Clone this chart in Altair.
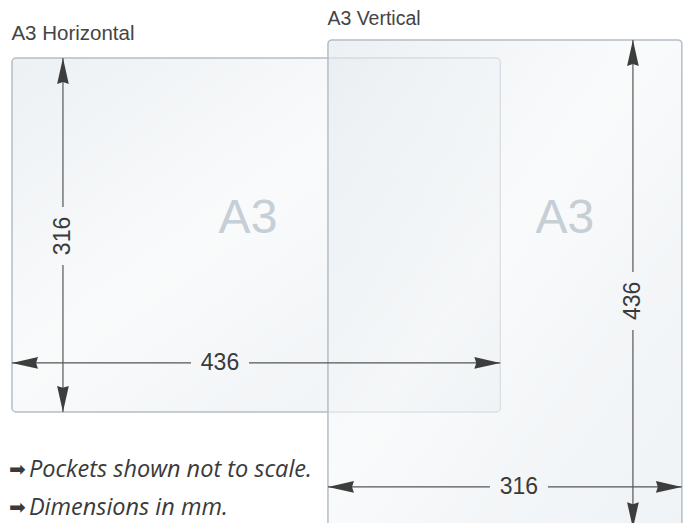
import altair as alt
import pandas as pd

# ---------------- data ----------------
pockets = ["A3 Horizontal", "A3 Vertical"]
widths_mm = [436, 316]
heights_mm = [316, 436]
big_labels = ["A3", "A3"]
notes = ["Pockets shown not to scale.", "Dimensions in mm."]

# ---------------- layout (drawing space in mm) ----------------
K = 1.12            # px per mm
W, H = 675, 515     # plot size in px
X0, Y0 = -3.57, -44.64
origins = [(0.0, 0.0), (282.1, -16.1)]
dim_layout = [
    dict(vx=45.5, hy=272.3, htx=185.7, vty=158.9),
    dict(vx=272.3, hy=399.1, htx=170.5, vty=233.0),
]
big_pos = [(210.7, 143.8), (211.6, 159.8)]
label_dy = [-16.1, -13.0]
label_size = [20.5, 19.5]
GAP = 29 / K
note_x_arrow, note_x_text = -2.7, 15.1
note_y = [374.1, 408.0]

# ---------------- build tables ----------------
rects, segs, heads, htxt, vtxt, labels, bigs = [], [], [], [], [], [], []
for i, name in enumerate(pockets):
    ox, oy = origins[i]
    w, h = widths_mm[i], heights_mm[i]
    d = dim_layout[i]
    rects.append(dict(name=name, x=ox, x2=ox + w, y=oy, y2=oy + h))
    hy = oy + d["hy"]
    vx = ox + d["vx"]
    tx = ox + d["htx"]
    ty = oy + d["vty"]
    segs += [
        dict(x=ox, x2=tx - GAP, y=hy, y2=hy),
        dict(x=tx + GAP, x2=ox + w, y=hy, y2=hy),
        dict(x=vx, x2=vx, y=oy, y2=ty - GAP),
        dict(x=vx, x2=vx, y=ty + GAP, y2=oy + h),
    ]
    heads += [
        dict(x=ox, y=hy, dir="left"),
        dict(x=ox + w, y=hy, dir="right"),
        dict(x=vx, y=oy, dir="up"),
        dict(x=vx, y=oy + h, dir="down"),
    ]
    htxt.append(dict(x=tx, y=hy, t=str(w)))
    vtxt.append(dict(x=vx, y=ty, t=str(h)))
    labels.append(dict(x=ox - 0.5, y=oy + label_dy[i], t=name, s=label_size[i]))
    bigs.append(dict(x=ox + big_pos[i][0], y=oy + big_pos[i][1], t=big_labels[i]))

notes_df = pd.DataFrame(dict(x=[note_x_text] * 2, y=note_y, t=notes))
notes_arrow_df = pd.DataFrame(dict(x=[note_x_arrow] * 2, y=note_y, t=["➡", "➡"]))

X = alt.X("x:Q", scale=alt.Scale(domain=[X0, X0 + W / K], nice=False, zero=False), axis=None)
Y = alt.Y("y:Q", scale=alt.Scale(domain=[Y0, Y0 + H / K], nice=False, zero=False, reverse=True), axis=None)

grad = alt.LinearGradient(
    gradient="linear",
    stops=[
        alt.GradientStop(color="#e3e9ee", offset=0),
        alt.GradientStop(color="#f6f8f9", offset=0.45),
        alt.GradientStop(color="#edf1f4", offset=0.7),
        alt.GradientStop(color="#e8edf1", offset=1),
    ],
    x1=0, y1=0, x2=1, y2=1,
)

pocket_layer = alt.Chart(pd.DataFrame(rects)).mark_rect(
    cornerRadius=4, fill=grad, fillOpacity=0.65, stroke="#b4bec7", strokeWidth=1.5
).encode(x=X, x2="x2:Q", y=Y, y2="y2:Q")

big_layer = alt.Chart(pd.DataFrame(bigs)).mark_text(
    font="Liberation Sans", fontSize=48, color="#c6ced6", baseline="middle", align="center"
).encode(x=X, y=Y, text="t:N")

line_layer = alt.Chart(pd.DataFrame(segs)).mark_rule(color="#555555", strokeWidth=1.2).encode(
    x=X, x2="x2:Q", y=Y, y2="y2:Q"
)

paths = {
    "left": "M0,0 L2,-0.45 L1.85,0 L2,0.45 Z",
    "right": "M0,0 L-2,-0.45 L-1.85,0 L-2,0.45 Z",
    "up": "M0,0 L-0.45,2 L0,1.85 L0.45,2 Z",
    "down": "M0,0 L-0.45,-2 L0,-1.85 L0.45,-2 Z",
}
head_layer = alt.Chart(pd.DataFrame(heads)).mark_point(
    filled=True, opacity=1, color="#3d3d3d", size=676, strokeWidth=0
).encode(
    x=X, y=Y,
    shape=alt.Shape("dir:N", scale=alt.Scale(domain=list(paths.keys()), range=list(paths.values())), legend=None),
)

htext_layer = alt.Chart(pd.DataFrame(htxt)).mark_text(
    font="Liberation Sans", fontSize=23, color="#3a3a3a", baseline="middle", align="center"
).encode(x=X, y=Y, text="t:N")

vtext_layer = alt.Chart(pd.DataFrame(vtxt)).mark_text(
    font="Liberation Sans", fontSize=23, color="#3a3a3a", baseline="middle", align="center", angle=270
).encode(x=X, y=Y, text="t:N")

label_layer = alt.Chart(pd.DataFrame(labels)).mark_text(
    font="Liberation Sans", color="#444444", baseline="alphabetic", align="left"
).encode(x=X, y=Y, text="t:N", size=alt.Size("s:Q", scale=None, legend=None))

note_layer = alt.Chart(notes_df).mark_text(
    font="Open Sans", fontSize=23.5, fontStyle="italic", color="#3a3a3a", baseline="alphabetic", align="left"
).encode(x=X, y=Y, text="t:N")

note_arrow_layer = alt.Chart(notes_arrow_df).mark_text(
    font="DejaVu Sans", fontSize=20, color="#3a3a3a", baseline="alphabetic", align="left", dy=-1
).encode(x=X, y=Y, text="t:N")

chart = alt.layer(
    pocket_layer, big_layer, line_layer, head_layer, htext_layer, vtext_layer,
    label_layer, note_layer, note_arrow_layer,
).properties(
    width=W, height=H, autosize=alt.AutoSizeParams(type="none"), padding=0, background="white"
).configure_view(stroke=None)

chart.save("out.html", embed_options={"renderer": "svg", "actions": False})
